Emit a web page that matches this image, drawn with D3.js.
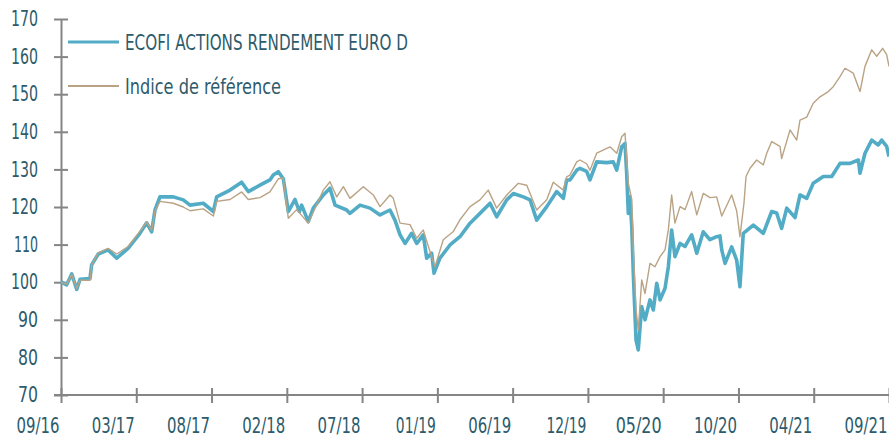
<!DOCTYPE html>
<html><head><meta charset="utf-8">
<script src="https://cdn.jsdelivr.net/npm/d3@7"></script>
<style>
body{margin:0;background:#fff}
text{font-family:"DejaVu Sans",sans-serif;fill:#2d5b6b}
</style>
</head><body>
<svg id="chart" width="889" height="437"></svg>
<script>
// x values are months elapsed since 09/16
const xTickLabels = ["09/16","03/17","08/17","02/18","07/18","01/19","06/19","12/19","05/20","10/20","04/21","09/21"];
const yTickValues = [70,80,90,100,110,120,130,140,150,160,170];
const seriesNames = ["ECOFI ACTIONS RENDEMENT EURO D","Indice de référence"];

const ecofiMonths = [0,0.41,0.78,1.14,1.38,2.10,2.22,2.70,3.41,4.04,4.86,5.72,6.21,6.57,6.81,7.17,8.14,8.86,9.35,10.31,11.04,11.28,12.25,13.09,13.57,14.42,15.14,15.38,15.75,16.11,16.47,16.96,17.27,17.44,17.92,18.28,19.01,19.49,19.86,20.70,20.94,21.67,22.39,23.12,23.84,24.20,24.57,24.93,25.41,25.78,26.25,26.50,26.86,27.03,27.46,28.19,28.91,29.64,30.36,31.09,31.57,32.30,32.78,33.50,33.99,34.47,35.20,35.92,36.40,36.64,36.88,37.37,37.61,38.09,38.33,38.82,39.54,40.02,40.27,40.63,40.87,40.99,41.11,41.23,41.36,41.47,41.67,41.83,42.08,42.32,42.68,42.92,43.17,43.41,43.77,44.01,44.25,44.49,44.86,45.22,45.70,46.07,46.54,47.03,47.51,47.75,47.88,48.12,48.60,48.96,49.20,49.44,50.17,50.89,51.50,51.86,52.22,52.59,53.19,53.55,54.04,54.51,55.24,55.85,56.45,57.17,57.78,57.90,58.26,58.75,59.22,59.47,59.83,60];
const ecofiValues = [100.1,99.3,102.2,98.1,100.8,101,104.6,107.5,108.6,106.4,109,113,115.8,113.4,119.2,122.7,122.7,121.9,120.5,121,118.8,122.7,124.5,126.6,124.1,125.8,127.2,128.5,129.4,127.5,118.8,122,118.8,120.5,116.1,119.7,123.2,125,120.5,119.2,118.3,120.5,119.7,117.9,119.2,116.5,112.6,110.3,113,110.3,112.6,106.4,107.7,102.4,106.4,109.9,112.1,115.7,118.3,121,117.4,121.9,123.6,122.7,121.9,116.5,120.1,124.1,122.3,127.2,127.2,129.8,130.3,129.5,127.2,132,131.8,132,129.8,136,136.9,129,118.3,122.7,114.8,102.4,84.6,82,93.5,90,95.3,92.6,99.7,95.3,98.4,104.1,113.9,106.8,110.3,109.5,112.6,107.7,113.4,111.3,112.1,112.3,108.6,105,109.4,105.9,98.8,113,115.2,113,118.8,118.4,114.3,119.7,117.2,123.2,122.3,126.3,128.1,128.1,131.6,131.6,132.5,129,134.3,137.8,136.5,137.8,136.1,133.4];

const indiceMonths = [0,0.41,0.78,1.14,1.38,2.10,2.22,2.70,3.41,4.04,4.86,5.72,6.21,6.57,6.81,7.17,8.14,8.86,9.35,10.31,11.04,11.28,12.25,13.09,13.57,14.42,15.14,15.75,16.11,16.47,17.08,17.92,19.01,19.49,19.98,20.46,20.94,21.91,22.63,23.12,23.84,24.08,24.57,25.29,25.78,26.25,26.62,27.10,27.70,28.43,28.91,29.64,30.36,30.96,31.57,32.30,33.14,33.75,34.47,35.20,35.67,36.40,36.64,36.88,37.37,37.61,38.09,38.33,38.82,39.78,40.27,40.63,40.87,41.11,41.36,41.47,41.67,41.83,42.08,42.32,42.68,43.04,43.41,43.77,44.01,44.25,44.49,44.86,45.22,45.70,46.07,46.54,47.03,47.51,47.88,48.60,48.96,49.20,49.49,49.64,49.93,50.41,50.89,51.14,51.50,52.10,52.22,52.83,53.31,53.55,54.04,54.51,55.00,55.60,55.96,56.45,56.81,57.41,57.90,58.26,58.75,59.11,59.54,59.83,60];
const indiceValues = [100,99.5,102,98.3,100.5,100.5,104.5,107.8,109,107.5,109.5,113.5,116,113.8,119,121.5,121,120,119,119.5,117.6,121.5,122,124,122,122.5,124,127.5,127.7,117,119.3,115.7,124.5,126.7,122.7,125.4,122.3,125.4,123.2,120.1,123.2,122.3,115.7,115.3,111.7,113.9,109.5,104.1,111.3,113.5,116.6,120.1,121.9,124.5,119.7,123.2,126.3,125.8,119.2,121.9,126.6,124.5,128,128.5,132,132.5,131.5,129.8,134.3,136,134.3,138.7,139.6,126.3,122,108.6,92.6,87.3,100.6,97,105,104.1,106.8,108.6,113.9,123.2,115.7,120.1,119.3,124.1,117.9,123.6,122.5,122.7,117.6,123.2,119,112.1,121,128.1,130.3,132.5,131.2,134.3,137.4,136.1,132.9,140.5,137.8,143.1,143.9,147.6,149.3,150.7,152,154.7,156.9,155.6,150.7,157.4,161.8,160.1,162.2,160.5,157.4];

const colors = ["#52acc6","#baa384"];

const svg = d3.select("#chart");
const m = {left:61, right:0, top:19, bottom:42};
const W = 889, H = 437;
const x = d3.scaleLinear().domain([0,60]).range([m.left, W - m.right]);
const y = d3.scaleLinear().domain([70,170]).range([H - m.bottom, m.top]);

const tickPos = xTickLabels.map((d,i) => i * 60 / (xTickLabels.length - 1));

// approximate width of the condensed original font
function targetWidth(s){
  let w = 0;
  for (const c of s) w += c === "1" ? 7 : c === "/" ? 6 : 10;
  return w;
}
function fitText(sel, widthFn){
  sel.each(function(d,i){
    d3.select(this).attr("textLength", widthFn(this.textContent, i)).attr("lengthAdjust", "spacingAndGlyphs");
  });
}

// y axis
const yAxis = svg.append("g").attr("transform", `translate(${m.left},0)`)
  .call(d3.axisLeft(y).tickValues(yTickValues).tickSizeInner(7).tickSizeOuter(0).tickPadding(16).tickFormat(d3.format("d")));
yAxis.selectAll(".tick line").attr("x2", 7).attr("x1", -7);
// x axis
const xAxis = svg.append("g").attr("transform", `translate(0,${y(70)})`)
  .call(d3.axisBottom(x).tickValues(tickPos).tickSizeInner(8).tickSizeOuter(0).tickPadding(15).tickFormat((d,i) => xTickLabels[i]));
xAxis.selectAll(".tick line").attr("y1", -7).attr("y2", 8);

svg.selectAll(".domain, .tick line").attr("stroke", "#858585").attr("stroke-width", 2);
svg.selectAll(".tick text").attr("font-size", 21).attr("font-family", null).attr("fill", "#2d5b6b");
xAxis.selectAll(".tick text").attr("text-anchor", "end").attr("x", -2);
xAxis.selectAll(".domain").attr("d", `M${m.left - 7},0H${W}`);
fitText(yAxis.selectAll(".tick text"), targetWidth);
fitText(xAxis.selectAll(".tick text"), targetWidth);

const line = d3.line().x(d => x(d[0])).y(d => y(d[1]));
const ecofi = ecofiMonths.map((d,i) => [d, ecofiValues[i]]);
const indice = indiceMonths.map((d,i) => [d, indiceValues[i]]);

svg.append("path").datum(ecofi).attr("d", line).attr("fill","none")
  .attr("stroke", colors[0]).attr("stroke-width", 3.6).attr("stroke-linejoin","round");
svg.append("path").datum(indice).attr("d", line).attr("fill","none")
  .attr("stroke", colors[1]).attr("stroke-width", 1.4).attr("stroke-linejoin","round");

// legend
const legendWidths = [283, 156];
const leg = svg.append("g");
[42, 86].forEach((ly, i) => {
  leg.append("line").attr("x1", 68).attr("x2", 119).attr("y1", ly).attr("y2", ly)
    .attr("stroke", colors[i]).attr("stroke-width", i === 0 ? 3 : 2);
  leg.append("text").attr("x", 125).attr("y", ly).attr("dy", "0.36em")
    .attr("font-size", 21).text(seriesNames[i]);
});
fitText(leg.selectAll("text"), (s, i) => legendWidths[i]);
</script>
</body></html>
